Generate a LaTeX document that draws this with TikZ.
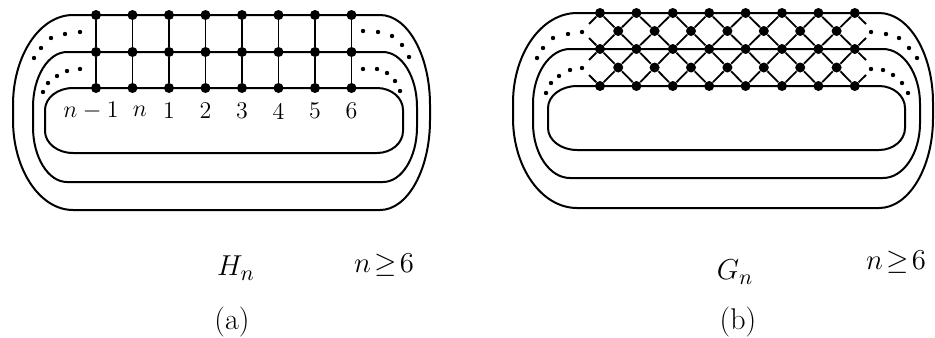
\documentclass[tikz,border=0pt]{standalone}
\usepackage{amsmath,amssymb}
\usepackage{tikz}
\usetikzlibrary{positioning}
\tikzset{
  ring/.style  ={line width=1pt},
  link/.style  ={line width=0.9pt},
  vtx/.style   ={circle, fill=black, inner sep=0pt, minimum size=5pt},
  lbl/.style   ={inner sep=0pt, font=\fontsize{12}{14}\selectfont},
  figlbl/.style={inner sep=0pt, font=\fontsize{15}{17}\selectfont},
}
% closed track: left, top, right, bottom, x radius left, x radius right, y radius
\newcommand{\trackloop}[7]{%
  \draw[ring] ({#1+#5},#2) -- ({#3-#6},#2)
    arc[start angle=-90, end angle=0, x radius=#6, y radius=#7]
    -- (#3,{#4-#7})
    arc[start angle=0, end angle=90, x radius=#6, y radius=#7]
    -- ({#1+#5},#4)
    arc[start angle=90, end angle=180, x radius=#5, y radius=#7]
    -- (#1,{#2+#7})
    arc[start angle=180, end angle=270, x radius=#5, y radius=#7]
    -- cycle;}

\begin{document}
\begin{tikzpicture}[x=0.5pt, y=-0.5pt]
  \useasboundingbox (0,0) rectangle (935,337);

  % (a) tracks
  \trackloop{13}{15}{430}{210}{60}{50}{90}
  \trackloop{33}{52}{417}{182}{34}{34}{55}
  \trackloop{45}{88}{403}{153}{28}{26}{22}

  % (a) square grid
  \foreach \c in {0,...,7} {
    \foreach \r/\y in {0/15,1/52,2/88}
      \node[vtx] (a-\r-\c) at ({96+36.5*\c},\y) {};
    \draw[link] (a-0-\c) -- (a-1-\c) -- (a-2-\c);
  }

  % (a) column labels
  \node[lbl] (lab-0) at (91,111) {$n-1$};
  \node[lbl] (lab-1) at (140,111) {$n$};
  \foreach \c/\t in {2/1,3/2,4/3,5/4,6/5,7/6}
    \node[lbl] (lab-\c) at ({96+36.5*\c},111) {\t};

  % (a) dots between the tracks
  \foreach \p in {(80,32),(65,34),(51,38),(41,48),(34,58),
                  (80,69),(67,71),(57,76),(48,83),(43,92),
                  (363,31),(378,32),(392,36),(402,45),(409,57),
                  (363,69),(377,69),(387,73),(395,81),(400,91)}
    \fill \p circle (1.1pt);

  % (b) tracks
  \trackloop{513}{13}{933}{208}{64}{54}{90}
  \trackloop{533}{49}{920}{178}{37}{37}{55}
  \trackloop{548}{86}{905}{150}{29}{26}{22}

  % (b) rows and diamond vertices
  \foreach \c in {0,...,7}
    \foreach \r/\y in {0/13,1/49,2/86}
      \node[vtx] (b-\r-\c) at ({600+36.4*\c},\y) {};
  \foreach \c in {0,...,6}
    \foreach \r/\y in {0/31,1/67.5}
      \node[vtx] (d-\r-\c) at ({618.2+36.4*\c},\y) {};

  % (b) diagonals
  \foreach \r [evaluate=\r as \rr using int(\r+1)] in {0,1} {
    \foreach \c [evaluate=\c as \cc using int(\c+1)] in {0,...,6} {
      \draw[link] (b-\r-\c) -- (d-\r-\c) -- (b-\rr-\cc);
      \draw[link] (b-\r-\cc) -- (d-\r-\c) -- (b-\rr-\c);
    }
  }

  % (b) loose ends
  \coordinate (sl-0) at (589,24);
  \coordinate (sl-1) at (589,38);
  \coordinate (sl-2) at (589,60);
  \coordinate (sl-3) at (589,75);
  \coordinate (sr-0) at (866,24);
  \coordinate (sr-1) at (866,38);
  \coordinate (sr-2) at (866,60);
  \coordinate (sr-3) at (866,75);
  \draw[link] (b-0-0) -- (sl-0);
  \draw[link] (b-1-0) -- (sl-1);
  \draw[link] (b-1-0) -- (sl-2);
  \draw[link] (b-2-0) -- (sl-3);
  \draw[link] (b-0-7) -- (sr-0);
  \draw[link] (b-1-7) -- (sr-1);
  \draw[link] (b-1-7) -- (sr-2);
  \draw[link] (b-2-7) -- (sr-3);

  % (b) dots between the tracks
  \foreach \p in {(582,32),(568,34),(553,38),(543,48),(537,58),
                  (582,68),(570,70),(559,76),(551,83),(546,93),
                  (871,32),(886,34),(899,38),(909,48),(917,58),
                  (871,69),(883,70),(893,75),(902,83),(908,93)}
    \fill \p circle (1.1pt);

  % captions
  \node[figlbl] (Hn) at (236,268) {$H_n$};
  \node[figlbl] (na) at (384,265) {$n\mkern2mu{\geq}\mkern2mu6$};
  \node[figlbl] (capa) at (232,322) {(a)};
  \node[figlbl] (Gn) at (735,272) {$G_n$};
  \node[figlbl] (nb) at (896,262) {$n\mkern2mu{\geq}\mkern2mu6$};
  \node[figlbl] (capb) at (738,322) {(b)};
\end{tikzpicture}
\end{document}
